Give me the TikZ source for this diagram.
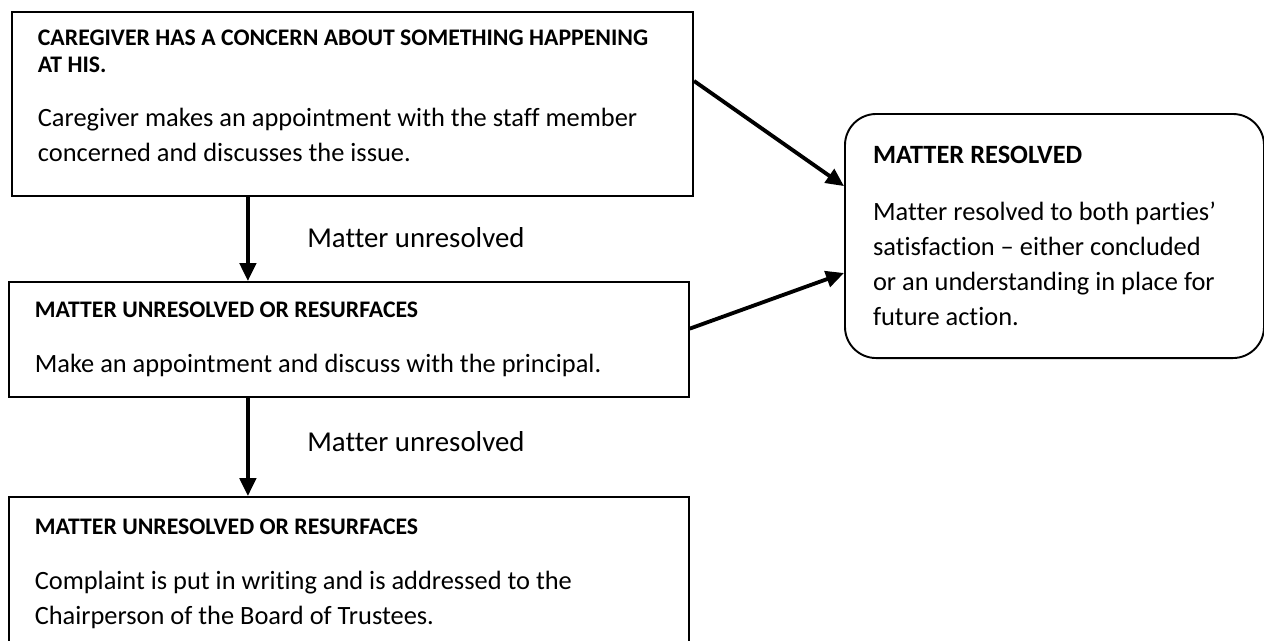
\documentclass[tikz,border=0pt]{standalone}
\usepackage{fontspec}
\setmainfont{Carlito}[Ligatures=NoCommon]
\usetikzlibrary{arrows.meta,positioning}

\newcommand{\stagehead}{\fontsize{9.9}{11.25}\selectfont\bfseries}

\tikzset{
  stepbox/.style={draw, line width=0.8pt, anchor=north west, align=flush left,
    inner xsep=10.8pt, font=\fontsize{11}{14.5}\selectfont},
  resbox/.style={stepbox, rounded corners=13pt, inner xsep=11.7pt},
  flow/.style={line width=1.6pt, -{Triangle[length=7.5pt,width=6.8pt]}},
  note/.style={font=\fontsize{12}{14}\selectfont}
}

\begin{document}
\begin{tikzpicture}
            \useasboundingbox (0,0) rectangle (526.7pt,-267.1pt);

            % left column
            \node[stepbox, minimum width=283.8pt, minimum height=76.7pt, text width=262.2pt] (concern) at (4.6pt,-4.6pt)
                {{\stagehead CAREGIVER HAS A CONCERN ABOUT SOMETHING HAPPENING\\AT HIS.\\[8.4pt]}
                 Caregiver makes an appointment with the staff member\\concerned and discusses the issue.\rule[-7pt]{0pt}{1pt}};
            \node[stepbox, minimum width=283.3pt, minimum height=47.9pt, text width=261.7pt] (principal) at (3.3pt,-117.1pt)
                {{\stagehead MATTER UNRESOLVED OR RESURFACES\\[8.4pt]}
                 Make an appointment and discuss with the principal.};
            \node[stepbox, minimum width=283.3pt, minimum height=64.2pt, text width=261.7pt] (board) at (3.3pt,-206.7pt)
                {{\stagehead MATTER UNRESOLVED OR RESURFACES\\[8.4pt]}
                 Complaint is put in writing and is addressed to the\\Chairperson of the Board of Trustees.};

            % right box
            \node[resbox, minimum width=174.6pt, minimum height=101.7pt, text width=151.2pt] (resolved) at (351.7pt,-47.1pt)
                {{\bfseries MATTER RESOLVED\\[9.2pt]}
                 Matter resolved to both parties’\\satisfaction – either concluded\\or an understanding in place for\\future action.};

            \coordinate (ax) at (103.3pt,0);

            % arrows
            \draw[flow] (concern.south -| ax) -- (principal.north -| ax);
            \draw[flow] (principal.south -| ax) -- (board.north -| ax);
            \draw[flow] ([yshift=9.6pt]concern.east) -- ([yshift=20.8pt]resolved.west);
            \draw[flow] ([yshift=4.5pt]principal.east) -- ([yshift=-15.4pt]resolved.west);

            \node[note] (lab1) at (173.3pt,-99.2pt) {Matter unresolved};
            \node[note] (lab2) at (173.3pt,-184.2pt) {Matter unresolved};
\end{tikzpicture}
\end{document}
